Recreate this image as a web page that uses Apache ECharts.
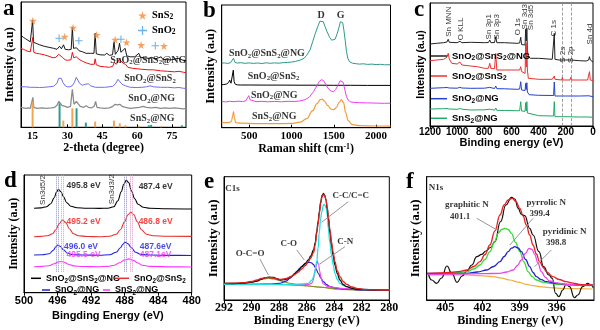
<!DOCTYPE html>
<html><head><meta charset="utf-8">
<script src="https://cdn.jsdelivr.net/npm/echarts@6.0.0/dist/echarts.min.js"></script>
<style>html,body{margin:0;padding:0;background:#fff}#c{width:600px;height:330px}</style>
</head><body><div id="c"></div>
<script>
const SERIF = '"Liberation Serif","Times New Roman",serif';
const SANS = '"Liberation Sans",Arial,Helvetica,sans-serif';

// ---------- panel a : XRD ----------
const a_xTicks = [15, 30, 45, 60, 75];
const a_black = [[10,92],[11,90],[12,88.5],[13,87],[14,85.5],[14.6,86],[15.0,107],[15.4,85],[16.5,84],[18,82.5],[20,81],[22,80],[24,79],[25.5,78],[26.6,81],[27.4,78.5],[28.3,82.5],[29,78],[30.5,77.5],[31.6,78],[32.1,100],[32.6,79],[33.9,79.5],[35,76.5],[36.5,75.5],[38,74],[38.5,75.5],[40,74],[41.4,74],[41.9,94],[42.4,73.5],[44,72.5],[46,72.3],[46.9,74],[48,72],[49.4,72.5],[50.0,85.5],[50.6,73],[51.8,77],[52.4,84],[53,75],[54.8,79],[55.5,71.5],[57,70.5],[59,70.5],[60.7,74],[61.4,70],[63,69.5],[65,69],[66,70],[68,68.5],[70.3,70.5],[71,68],[73,67.5],[75,67.5],[77.6,69],[78.3,67],[80,66.8],[81,66.6]];
const a_red = [[10,79],[11,78],[12,77],[13,76],[14,75.5],[14.7,76],[15.1,90],[15.5,75],[16.6,74],[18,73.5],[20,72.5],[22,71],[23.8,69.5],[25,70],[26.2,73],[27,72.5],[27.8,70],[28.3,71],[29,67.5],[30,67],[31.5,67.5],[32.1,75],[32.7,69.5],[33.8,70.5],[35,68],[36.5,66],[38,64.5],[40,63],[41.5,63],[41.9,68.5],[42.4,62.5],[44,61],[46,60.5],[48,60],[49.5,61],[50.1,65],[51,63],[52.3,68],[53,66.5],[54,64],[55,63],[56,60],[58,59],[60,58.5],[62,58],[65,57.5],[67,57.5],[70,56.5],[73,56],[76,55.5],[78,56],[80,55],[81,54.6]];
const a_blue = [[10,40.5],[12,40.5],[14,40],[16,40],[18,39.8],[20,40],[22,40.5],[24,41],[25.5,44],[26.2,49],[26.7,51],[27.3,49],[28,45],[29,41.5],[30,40.5],[31,40.5],[32,41.5],[33,45],[33.8,50],[34.4,48.5],[35.2,44],[36.5,42],[37.5,43],[38.2,45],[39,43.5],[40,41.5],[42,40],[44,40],[46,40],[48,40.5],[49.5,41],[50.8,44],[51.7,48],[52.5,46.5],[53.5,43],[55,41.5],[57,40],[60,39.8],[62,40],[64,40.5],[65.5,41.5],[67,40.5],[70,40],[73,40],[76,39.5],[78,39.8],[80,39],[81,39]];
const a_gray = [[10,20],[11,19.5],[12,19],[13,19.5],[14,19],[14.7,20],[15.1,30],[15.5,20],[17,19],[19,19.5],[21,19],[23,19.5],[24.5,20],[25.5,22],[26.3,26],[27,25],[27.6,22],[28.3,24],[29,21],[30,20],[31.3,21],[32.1,38],[32.8,23],[33.8,26],[34.6,24],[35.5,21],[37,20],[38,21.5],[39,20],[40.5,19.5],[41.5,21],[42.1,26],[42.7,20],[44,19.5],[46,19],[48,19.5],[49.5,21],[50.5,23],[51.5,22.5],[52.5,23],[53.5,21],[55,20],[57,19],[59,19.5],[61,20],[62.5,21],[64,20],[66,19.5],[68,20],[70,19],[72,19.5],[74,19],[76,19.5],[78,19],[80,18.5],[81,19]];
const a_sns2Ref = [[15.0,25.7],[28.2,6.7],[32.1,19],[41.9,5.7],[50.0,6.7],[52.5,4],[54.9,2],[60.7,1.5],[70.3,1]];
const a_sno2Ref = [[26.6,24],[33.9,19],[37.9,4.7],[65.0,2],[66.0,2.5],[79.2,2]];
const a_starPos = [[15.1,106.6],[28.8,90.6],[32.4,99.6],[42.5,92.3],[50.5,87.6],[55.4,85],[61.7,82.3],[71.5,81.3]];
const a_crossPos = [[26.4,89],[34.9,86.6],[53.0,88],[67.8,81.6]];
const a_labelText = ['SnO{s|2}@SnS{s|2}@NG','SnO{s|2}@SnS{s|2}','SnO{s|2}@NG','SnS{s|2}@NG'];
const a_labelX = [64.8, 65.5, 66.2, 66.5];
const a_labelY = [67.3, 49, 29, 9];

// ---------- panel b : Raman ----------
const b_xTicks = [500, 1000, 1500, 2000];
const b_teal = [[175,64.5],[210,64.8],[245,64.2],[280,65],[300,66.5],[315,69.5],[330,65.5],[360,64.6],[400,65],[450,64.4],[500,64.8],[550,64.3],[600,64.7],[650,64.2],[700,64.9],[750,64.4],[800,64.8],[850,64.5],[900,65],[950,65.3],[1000,65.6],[1050,66.4],[1100,67.5],[1150,69.5],[1180,72.5],[1220,78],[1250,86],[1280,94],[1310,101],[1335,106.5],[1355,108],[1375,106],[1395,101.5],[1420,96],[1450,90.5],[1475,87.5],[1495,87],[1515,88.5],[1540,94],[1560,100],[1578,106],[1592,108],[1605,105],[1620,97],[1635,87],[1650,76],[1665,69.5],[1685,66],[1720,64.5],[1760,64],[1800,63.6],[1850,63.9],[1900,63.3],[1950,63.6],[2000,63.1],[2050,63.4],[2100,62.9],[2170,63]];
const b_black = [[175,43],[200,43.2],[230,43.6],[255,45],[270,47.5],[285,44.5],[300,46],[312,57.5],[322,46],[335,43.5],[360,42.8],[400,42.7],[500,42.7],[700,42.6],[900,42.6],[1100,42.5],[1300,42.5],[1500,42.4],[1700,42.4],[1900,42.3],[2170,42.3]];
const b_magenta = [[175,26.2],[220,25.8],[270,26.4],[320,26],[370,26.5],[420,26.1],[460,26.8],[480,28.5],[495,32],[510,28],[530,26.3],[580,26],[650,26.4],[720,25.9],[800,26.3],[880,25.9],[960,26.4],[1040,26.2],[1100,26.8],[1160,28],[1210,30.5],[1260,36],[1300,42],[1330,46.5],[1355,48],[1380,47],[1410,42.5],[1440,38.5],[1470,36.5],[1495,36],[1520,38],[1550,42.5],[1575,47],[1592,48.2],[1610,45.5],[1630,38],[1650,31],[1670,27.5],[1700,25.8],[1750,25.2],[1800,25],[1900,24.8],[2000,24.6],[2100,24.4],[2170,24.5]];
const b_orange = [[175,5],[250,5],[290,6],[305,12],[315,16],[325,10],[340,5],[400,4.5],[600,4],[800,4],[1000,4.3],[1100,5.5],[1180,9],[1250,17],[1300,24],[1340,28],[1360,28.5],[1390,26.5],[1430,22],[1470,18.5],[1500,18],[1530,20],[1560,25],[1590,28],[1615,25],[1640,15],[1670,7],[1720,3],[1800,2],[2000,1.7],[2170,1.5]];
const b_labelText = ['SnO{s|2}@SnS{s|2}@NG','SnO{s|2}@SnS{s|2}','SnO{s|2}@NG','SnS{s|2}@NG','D','G'];
const b_labelX = [709, 788, 796, 796, 1349, 1582];
const b_labelY = [74.4, 51.7, 32.7, 11, 112, 112];

// ---------- panel c : XPS survey ----------
const c_black = [[1200,82],[1150,82.7],[1100,83.3],[1075,84],[1066,86.7],[1058,83.7],[1000,83.3],[980,84.7],[965,83.3],[900,83.7],[800,83.3],[770,83.5],[760,86],[752,83.3],[725,83.5],[716,89.3],[708,83.3],[650,83.3],[560,82.7],[540,83],[532,88.7],[526,81.5],[500,81],[496,96.7],[491,85],[487,97.7],[483,76],[476,69.3],[460,67.7],[400,67.7],[300,66.7],[290,67],[285,92.7],[280,66.7],[250,66],[200,66],[160,66],[100,65.3],[50,65],[32,66],[26,69.3],[20,66],[0,64]];
const c_red = [[1200,65.3],[1150,66],[1100,66.7],[1075,68.7],[1066,72.7],[1058,67],[1040,62.7],[1000,62],[980,64],[965,61],[900,60],[850,59.3],[800,57.7],[770,57.7],[760,62.7],[752,57.5],[725,57.3],[716,72.7],[708,56],[650,56],[560,56],[540,56],[532,59.3],[526,54.5],[500,52.5],[496,82.7],[491,59],[487,83.3],[483,56],[476,47.7],[400,46.7],[300,46.7],[290,46.7],[285,50],[280,46.7],[230,46],[226,48.7],[222,46],[170,46],[163,48.7],[157,46],[100,46],[40,46],[30,47],[26,54.3],[20,46],[0,45.3]];
const c_blue = [[1200,37.7],[1100,38.3],[1075,38.5],[1066,40],[1058,38],[1000,37.8],[980,38.7],[965,38],[900,37.7],[800,37.8],[760,38.6],[752,37.7],[725,37.5],[716,40],[708,37.3],[650,37.2],[560,36.7],[540,37],[532,44.3],[526,36],[500,35.5],[496,42.7],[491,36.5],[487,43.3],[483,34],[470,31.3],[400,30.7],[290,30.5],[285,44],[280,30],[200,30],[100,30],[30,30.2],[26,32],[20,29.7],[0,29.3]];
const c_green = [[1200,17],[1100,17.3],[1075,17.5],[1066,18.7],[1058,17],[1000,16.7],[980,17.5],[965,16.8],[900,16],[800,16.2],[760,16.8],[752,16],[725,15.8],[716,18],[708,15.7],[650,15.5],[560,15.3],[540,15.3],[532,24.3],[526,15],[500,14.7],[496,23.3],[491,15],[487,24.3],[483,13],[470,11],[400,10.3],[290,10],[285,24.3],[280,9.3],[200,9.3],[100,9],[30,9],[26,11],[20,8.7],[0,8.7]];
const c_sulfurLines = [226, 162];
const c_peakNames = ['Sn MNN','O KLL','Sn 3p1','Sn 3p3','O 1s','Sn 3d3','Sn 3d5','C 1s','S 2s','S 2p','Sn 4d'];
const c_peakX = [1060, 970, 768, 709, 550, 501, 459, 287, 223, 164, 27];
const c_peakY = [104.3, 97, 99.3, 99.3, 99.3, 109.3, 108.5, 97.7, 71.3, 71.3, 92];

// ---------- panel d : Sn 3d ----------
const d_black = [[498.8,84.5],[498,84.8],[497.3,86],[496.8,89],[496.4,95],[496.1,101],[495.9,103.5],[495.6,101],[495.3,96],[494.9,90],[494.4,86.5],[493.7,85],[492.5,84.5],[491,84.3],[490,84.5],[489.3,86],[488.8,92],[488.4,101],[488.1,108.5],[487.8,112.5],[487.5,110],[487.2,102],[486.8,94],[486.4,88.5],[485.8,85.5],[485,84.5],[483,84],[480,83.7]];
const d_red = [[498.8,56],[498,56.3],[497.2,57],[496.6,59],[496.2,63],[495.8,69],[495.4,72.7],[495.0,70],[494.6,64],[494.1,59],[493.5,57],[492.5,56.2],[491,56],[489.8,56.5],[489,58.5],[488.5,63],[488.0,71],[487.6,78],[487.25,80.5],[486.9,78],[486.5,71],[486.0,63],[485.4,58.5],[484.6,57],[483,56.5],[480,56.3]];
const d_blue = [[498.8,37.7],[497.8,38],[497,39],[496.5,42.5],[496.2,46],[496.0,47.7],[495.7,46.5],[495.3,43],[494.8,39.5],[494.2,38],[493,37.7],[491,37.5],[489.8,38],[489.0,40.5],[488.5,45],[488.2,48.5],[487.95,50.4],[487.6,49],[487.2,45],[486.7,40.5],[486.1,38.5],[485,37.7],[482,37.3],[480,37.2]];
const d_magenta = [[498.8,26],[497.8,26.3],[497,27],[496.4,29],[496,30.5],[495.6,31.2],[495.2,30.5],[494.7,28.5],[494.1,26.8],[493,26.2],[491,26],[490,26.3],[489.2,27.5],[488.6,30],[488.0,32.7],[487.5,33.8],[487.0,32.5],[486.5,30],[485.9,27.5],[485,26.3],[482,25.8],[480,25.7]];
const d_refLines = [496.2, 495.9, 495.55, 495.3, 488.0, 487.75, 487.35, 487.1];
const d_refColors = ['#8c8cc8','#8c8cc8','#f08ad0','#f08ad0','#8c8cc8','#8c8cc8','#f08ad0','#f08ad0'];
const d_labelText = ['495.8 eV','487.4 eV','495.2 eV','486.8 eV','496.0 eV','487.6eV','495.5 eV','487.1eV'];
const d_labelX = [492.9, 484.3, 492.9, 484.3, 493.2, 484.3, 492.9, 484.3];
const d_labelY = [106.7, 106, 71, 71, 46.4, 46.4, 37.7, 37.7];
const d_labelColor = ['#000','#000','#f01818','#f01818','#1a1ae0','#1a1ae0','#ff30ff','#ff30ff'];
const d_peakNames = ['Sn3d5/2','Sn3d3/2'];
const d_peakX = [497.73, 489.47];
const d_peakY = [102.7, 103.4];

// ---------- panel e : C1s ----------
const e_black = [[292,16.7],[291.3,16.5],[290.6,16.8],[290,17.8],[289.6,19],[289.3,20.8],[289.0,22.3],[288.7,22.8],[288.4,22.5],[288.1,21],[287.9,20],[287.65,20.3],[287.45,21],[287.1,23.5],[286.85,26.7],[286.6,29.5],[286.36,33.3],[286.1,36.5],[285.88,40],[285.7,44],[285.5,50],[285.38,57],[285.27,68.3],[285.17,78],[285.08,88.3],[284.98,98],[284.88,104.5],[284.78,106.7],[284.68,104.5],[284.6,100],[284.5,91],[284.43,81.7],[284.3,67],[284.2,55],[284.07,44],[283.95,35],[283.78,26.5],[283.58,20],[283.35,15.5],[283.1,13.3],[282.7,11.7],[282.37,10.7],[281.8,10.3],[281.16,10],[280.6,9.8],[280,9.7]];
const e_red = [[292,16.7],[291.3,16.8],[290.6,17.3],[290,18.5],[289.6,20],[289.3,21.5],[289.0,22.3],[288.7,22.5],[288.4,22],[288.1,21],[287.9,20.5],[287.65,21],[287.45,21.7],[287.1,23.5],[286.85,25.7],[286.6,28],[286.36,31],[286.1,34.5],[285.88,38.3],[285.7,42],[285.5,47.3],[285.38,55],[285.27,66.7],[285.17,76],[285.08,86.7],[284.98,96.5],[284.88,103.5],[284.78,105.7],[284.68,104],[284.6,100.5],[284.5,92.5],[284.43,84],[284.3,70],[284.2,58.3],[284.07,47.5],[283.95,38.3],[283.78,29.5],[283.58,23.3],[283.35,18.5],[283.1,15.7],[282.7,13],[282.37,11.7],[281.8,10.7],[281.16,10.2],[280.6,10],[280,9.8]];
const e_cyan = [[292,15.7],[289,15.7],[287,15.7],[286.3,16],[285.88,16.7],[285.6,20],[285.5,23.3],[285.38,30],[285.27,38.3],[285.17,52],[285.08,68.3],[284.98,82],[284.9,88.3],[284.8,94],[284.73,95.7],[284.65,94.5],[284.58,91.7],[284.5,85],[284.43,71.7],[284.32,58],[284.2,45],[284.07,35],[283.95,26.7],[283.78,20.5],[283.58,16.7],[283.3,14.3],[283.1,13.3],[282.37,11],[281,10.2],[280,10]];
const e_blue = [[292,15.7],[289.5,15.7],[288.6,16],[287.94,16.7],[287.5,18.8],[287.21,21.7],[286.95,24.8],[286.73,28.3],[286.48,32],[286.24,35],[286.03,37],[285.83,37.7],[285.65,37.2],[285.52,35.7],[285.33,31.5],[285.15,26.7],[284.97,22],[284.79,18.3],[284.55,15.3],[284.31,13.3],[283.8,11.8],[283.34,11],[282,10],[280,9.7]];
const e_magenta = [[292,15.7],[288,15.5],[286.5,15.2],[285.9,15.5],[285.64,16.7],[285.52,19.5],[285.45,25],[285.32,33.3],[285.23,39],[285.13,35],[285.05,29],[284.98,23.3],[284.88,19],[284.79,16],[284.43,13.3],[283.58,11.7],[282,10.5],[280,10]];
const e_olive = [[292,16],[291.3,16.2],[290.6,16.7],[290.1,17.7],[289.63,19],[289.14,21],[288.78,21.7],[288.42,21],[287.94,19.3],[287.55,17.8],[287.21,16.7],[286.6,15.3],[286,14.3],[285,12.8],[283.58,11],[282,10.3],[280,10]];
const e_bg = [[292,15.7],[289,15.7],[287.5,15.2],[286.3,14.3],[285.1,13],[283.9,11],[282.7,10],[280,9.7]];
const e_labelText = ['C1s','C-C/C=C','C-N','C-O','O-C=O'];
const e_labelX = [291.38, 282.8, 283.2, 287.3, 290.1];
const e_labelY = [111, 104.3, 58.3, 56.7, 46];
const e_pointers = [[[282.98,98.3],[284.91,77.7]], [[283.22,53.3],[285.08,35.7]], [[286.72,50],[286.17,40]], [[289.39,41],[288.78,25]]];

// ---------- panel f : N1s ----------
const f_xTicks = [396, 399, 402, 405];
const f_black = [[406.34,25],[406.1,20],[405.7,16.7],[405.3,22],[404.87,34],[404.45,26],[404.05,17.7],[403.64,24],[403.26,29],[402.86,35],[402.46,43.3],[402.06,45.7],[401.72,49],[401.35,52.5],[401.0,58.3],[400.54,78.3],[400.11,95],[399.65,102.7],[399.39,101],[399.12,91.7],[398.86,85.7],[398.59,84.3],[398.19,71.7],[397.92,65],[397.44,48.3],[397.07,33.3],[396.64,25],[396.37,21.7],[396.1,6.7],[395.84,3.3],[395.52,10],[395.25,15.7],[394.98,13.3],[394.58,2.3],[394.31,5],[393.91,13.3],[393.51,16.7],[393.25,15],[393.06,12.3]];
const f_red = [[406.47,26.7],[405.5,27.2],[404.6,27.7],[403.8,28.7],[403.26,30],[402.7,33.5],[402.2,38.3],[401.8,45.5],[401.4,55],[401.0,69],[400.59,85],[400.25,95],[399.93,100],[399.6,101.7],[399.3,98.5],[398.99,91.7],[398.72,84],[398.46,75],[398.19,65],[397.92,55],[397.65,46],[397.39,38.3],[397.1,32.5],[396.85,28.3],[396.32,23.3],[395.8,20.5],[395.25,18.3],[394.7,16.8],[394.18,15.7],[393.6,15.2],[393.11,15]];
const f_green = [[406.47,25.7],[405,26.5],[404,27.3],[403.26,28.3],[402.7,31],[402.2,35],[401.8,40.5],[401.4,48.3],[401.05,57.5],[400.73,66.7],[400.45,70.5],[400.19,71.7],[399.92,70.5],[399.66,66.7],[399.33,57.5],[398.99,48.3],[398.65,38],[398.32,28.3],[397.98,23.3],[397.65,20],[397.1,17.8],[396.59,16.7],[395.9,15.7],[395.25,15],[394.2,14.6],[393.11,14.3]];
const f_blue = [[406.47,26.7],[404,26.7],[403.26,26.7],[402.4,28],[401.66,30],[401.1,33.5],[400.59,38.3],[400.25,43.5],[399.93,48.3],[399.66,51.8],[399.39,53.3],[399.12,52],[398.86,48.3],[398.52,40.5],[398.19,33.3],[397.92,27.5],[397.65,23.3],[397.25,20.3],[396.85,18.3],[396,16.6],[395.25,15.7],[394,15.2],[393.11,15]];
const f_magenta = [[406.47,25.7],[404,26],[402,26.3],[400.59,26.7],[400.05,28],[399.52,30],[399.18,34.5],[398.86,40],[398.55,46.5],[398.24,51.7],[398.0,50.5],[397.79,45.7],[397.52,37],[397.25,28.3],[396.92,22.5],[396.59,19],[396,17],[395.25,15.7],[394,15.2],[393.11,15]];
const f_bg = [[406.47,25],[405,25],[403.26,25],[402.2,24.3],[401.13,23.3],[400.45,21.8],[399.79,20],[399.12,17.8],[398.46,15.7],[397.9,14.3],[397.39,13.3],[396.6,12.4],[395.79,11.7],[394.5,11.3],[393.11,11]];
const f_labelText = ['N1s','graphitic N','401.1','pyrrolic N','399.4','pyridinic N','398.8'];
const f_labelX = [405.75, 403.26, 403.8, 396.85, 397.39, 395.38, 396.05];
const f_labelY = [112.3, 95.7, 83.3, 97.7, 86.7, 68.3, 57.7];
const f_pointers = [[[402.46,81.7],[400.59,68.3]], [[397.92,81.7],[399.79,55]], [[396.45,50],[397.79,33.3]]];

// ---------- helpers ----------
const SUB = (size) => ({ s: { fontSize: size, lineHeight: size, verticalAlign: 'bottom' }, p: { fontSize: size, lineHeight: size, verticalAlign: 'top' } });
const chem = (n) => n.replace(/([A-Za-z])2/g, '$1{s|2}');

function line(gi, name, data, color, width, smooth, z) {
  return { type: 'line', name, xAxisIndex: gi, yAxisIndex: gi, data, symbol: 'none', showSymbol: false,
    smooth: smooth || false, smoothMonotone: 'x', lineStyle: { color, width: width || 1 }, itemStyle: { color },
    silent: true, z: z || 2 };
}
function labels(gi, texts, xs, ys, style, colors, rotate) {
  return { type: 'scatter', xAxisIndex: gi, yAxisIndex: gi, symbolSize: 1, itemStyle: { color: 'rgba(0,0,0,0)' }, silent: true, z: 20,
    data: texts.map((t, i) => ({ value: [xs[i], ys[i]], name: t, label: colors ? { color: colors[i] } : undefined })),
    label: Object.assign({ show: true, position: 'inside', formatter: (p) => p.name, color: '#000', rotate: rotate || 0 }, style) };
}
function pointer(gi, seg) {
  return { type: 'line', xAxisIndex: gi, yAxisIndex: gi, data: seg, symbol: 'none', lineStyle: { color: '#8a8a8a', width: 0.9 }, silent: true, z: 15 };
}
function xAx(gi, o) {
  return { type: 'value', gridIndex: gi, min: o.min, max: o.max, inverse: !!o.inverse, interval: o.interval,
    axisLine: { show: true, onZero: false, lineStyle: { color: '#000', width: 1 } },
    axisTick: { show: true, inside: !!o.tickInside, length: 3, lineStyle: { color: '#000' }, customValues: o.custom },
    axisLabel: { show: true, margin: o.margin, color: '#000', fontFamily: o.font, fontWeight: 'bold', fontSize: o.size, customValues: o.custom,
      formatter: (v) => String(v) },
    splitLine: { show: false },
    name: o.name, nameLocation: 'middle', nameGap: o.nameGap,
    nameTextStyle: { color: '#000', fontFamily: o.font, fontWeight: 'bold', fontSize: o.nameSize, rich: SUB(o.nameSize * 0.65) } };
}
function yAx(gi, h, o) {
  return { type: 'value', gridIndex: gi, min: 0, max: h,
    axisLine: { show: true, onZero: false, lineStyle: { color: '#000', width: 1 } },
    axisTick: { show: false }, axisLabel: { show: false }, splitLine: { show: false },
    name: 'Intensity (a.u)', nameLocation: 'middle', nameGap: o.gap,
    nameTextStyle: { color: '#000', fontFamily: o.font, fontWeight: 'bold', fontSize: o.size } };
}
function legendItem(name, left, top, w, font, size) {
  return { data: [name], left, top, padding: 0, icon: 'rect', itemWidth: w, itemHeight: 1.5, selectedMode: false,
    formatter: (n) => chem(n.split('|')[1]),
    textStyle: { fontFamily: font, fontWeight: 'bold', fontSize: size, color: '#000', lineHeight: 12, rich: SUB(size * 0.7) } };
}

const GRIDS = [
  { left: 21, top: 2, width: 165, height: 125.3 },
  { left: 221.7, top: 5, width: 168.8, height: 122.7 },
  { left: 430, top: 3, width: 163, height: 123 },
  { left: 24, top: 175, width: 167.7, height: 117.7 },
  { left: 224, top: 176.7, width: 165.3, height: 123.3 },
  { left: 426.7, top: 176.7, width: 167.3, height: 123.3 }
].map(g => Object.assign({ show: true, borderColor: '#000', borderWidth: 1, backgroundColor: 'transparent', containLabel: false }, g));

const STAR = 'path://M50,0 L61,35 L98,35 L68,57 L79,91 L50,70 L21,91 L32,57 L2,35 L39,35 Z';
const CROSS = 'path://M43,0 H57 V43 H100 V57 H57 V100 H43 V57 H0 V43 H43 Z';

const serifLbl = (size) => ({ fontFamily: SERIF, fontWeight: 'bold', fontSize: size, lineHeight: 12, rich: SUB(size * 0.68) });
const sansLbl = (size, w) => ({ fontFamily: SANS, fontWeight: w || 'bold', fontSize: size, lineHeight: 11 });

const series = [
  // a
  line(0, 'a-black', a_black, '#000', 0.9),
  line(0, 'a-red', a_red, '#f01010', 1),
  line(0, 'a-blue', a_blue, '#6d6df5', 1),
  line(0, 'a-gray', a_gray, '#8c8c8c', 1.3),
  { type: 'bar', xAxisIndex: 0, yAxisIndex: 0, data: a_sns2Ref, barWidth: 2, barGap: '-100%', itemStyle: { color: '#f2a650' }, silent: true, z: 5 },
  { type: 'bar', xAxisIndex: 0, yAxisIndex: 0, data: a_sno2Ref, barWidth: 2, barGap: '-100%', itemStyle: { color: '#2f9a8c' }, silent: true, z: 5 },
  { type: 'scatter', name: 'a|SnS2', xAxisIndex: 0, yAxisIndex: 0, data: a_starPos, symbol: STAR, symbolSize: 8, itemStyle: { color: '#f28a3c' }, silent: true, z: 8 },
  { type: 'scatter', name: 'a|SnO2', xAxisIndex: 0, yAxisIndex: 0, data: a_crossPos, symbol: CROSS, symbolSize: 7.5, itemStyle: { color: '#4a9ee0' }, silent: true, z: 8 },
  labels(0, a_labelText, a_labelX, a_labelY, serifLbl(10)),
  // b
  line(1, 'b-teal', b_teal, '#2a9a8a', 1),
  line(1, 'b-black', b_black, '#000', 1),
  line(1, 'b-magenta', b_magenta, '#f03cf0', 1),
  line(1, 'b-orange', b_orange, '#f39a3a', 1.2, 0.4),
  labels(1, b_labelText, b_labelX, b_labelY, serifLbl(10)),
  // c
  line(2, 'c|SnO2@SnS2@NG', c_black, '#222', 1),
  line(2, 'c|SnO2@SnS2', c_red, '#ee3030', 1, false, 3),
  line(2, 'c|SnO2@NG', c_blue, '#2440d0', 1),
  Object.assign(line(2, 'c|SnS2@NG', c_green, '#1fa866', 1), {
    markLine: { silent: true, symbol: ['none', 'none'], label: { show: false },
      lineStyle: { color: '#888', type: 'dashed', width: 0.8 }, data: c_sulfurLines.map(v => ({ xAxis: v })) } }),
  labels(2, c_peakNames, c_peakX, c_peakY, sansLbl(8, 'normal'), null, 90),
  // d
  Object.assign(line(3, 'd|SnO2@SnS2@NG', d_black, '#000', 1.1, 0.4), {
    markLine: { silent: true, symbol: ['none', 'none'], label: { show: false },
      data: d_refLines.map((v, i) => [{ coord: [v, 21], lineStyle: { color: d_refColors[i], type: 'dotted', width: 1 } }, { coord: [v, 117.7] }]) } }),
  line(3, 'd|SnO2@SnS2', d_red, '#e83030', 1.1, 0.4),
  line(3, 'd|SnO2@NG', d_blue, '#2020dd', 1.1, 0.4),
  line(3, 'd|SnS2@NG', d_magenta, '#ff33ff', 1.1, 0.4),
  labels(3, d_labelText, d_labelX, d_labelY, sansLbl(8.5), d_labelColor),
  labels(3, d_peakNames, d_peakX, d_peakY, sansLbl(8, 'normal'), null, 90),
  // e
  line(4, 'e-bg', e_bg, '#a89c3a', 1, 0.3),
  line(4, 'e-olive', e_olive, '#8c8c2a', 1.1, 0.4),
  line(4, 'e-blue', e_blue, '#2222d0', 1.2, 0.4),
  line(4, 'e-magenta', e_magenta, '#ee44ee', 1.2, 0.4),
  line(4, 'e-cyan', e_cyan, '#22e0e0', 1.3, 0.4),
  line(4, 'e-black', e_black, '#111', 1.3, 0.4),
  line(4, 'e-red', e_red, '#e02020', 1.3, 0.4),
  labels(4, e_labelText, e_labelX, e_labelY, serifLbl(9)),
  ...e_pointers.map(s => pointer(4, s)),
  // f
  line(5, 'f-bg', f_bg, '#f0b040', 1.2, 0.4),
  line(5, 'f-black', f_black, '#111', 1.2, 0.5),
  line(5, 'f-green', f_green, '#33dd33', 1.3, 0.4),
  line(5, 'f-blue', f_blue, '#2222cc', 1.3, 0.4),
  line(5, 'f-magenta', f_magenta, '#ee44ee', 1.3, 0.4),
  line(5, 'f-red', f_red, '#e82020', 1.3, 0.4),
  labels(5, f_labelText, f_labelX, f_labelY, serifLbl(9)),
  ...f_pointers.map(s => pointer(5, s))
];

const option = {
  animation: false,
  backgroundColor: '#fff',
  grid: GRIDS,
  xAxis: [
    xAx(0, { min: 10, max: 81, custom: a_xTicks, font: SERIF, size: 11, margin: 3, tickInside: true, name: '2-theta (degree)', nameGap: 12.5, nameSize: 12 }),
    xAx(1, { min: 175, max: 2170, custom: b_xTicks, font: SERIF, size: 11, margin: 3, tickInside: true, name: 'Raman shift (cm{p|-1})', nameGap: 13, nameSize: 12 }),
    xAx(2, { min: 0, max: 1200, inverse: true, interval: 200, font: SANS, size: 10, margin: 1, name: 'Binding energy (eV)', nameGap: 6, nameSize: 11 }),
    xAx(3, { min: 480, max: 500, inverse: true, interval: 4, font: SANS, size: 11, margin: 3, name: 'Bingding Energy (eV)', nameGap: 18, nameSize: 11 }),
    xAx(4, { min: 280, max: 292, inverse: true, interval: 2, font: SERIF, size: 12, margin: 2, name: 'Binding Energy (eV)', nameGap: 15, nameSize: 12 }),
    xAx(5, { min: 393, max: 406.5, inverse: true, custom: f_xTicks, font: SERIF, size: 12, margin: 2, name: 'Binding Energy (eV)', nameGap: 15, nameSize: 12 })
  ],
  yAxis: [
    yAx(0, 125.3, { gap: 4.5, font: SERIF, size: 12.5 }),
    yAx(1, 122.7, { gap: 4, font: SERIF, size: 12.5 }),
    yAx(2, 123, { gap: 3, font: SANS, size: 10.5 }),
    yAx(3, 117.7, { gap: 4, font: SERIF, size: 12 }),
    yAx(4, 123.3, { gap: 4, font: SERIF, size: 13 }),
    yAx(5, 123.3, { gap: 5, font: SERIF, size: 13 })
  ],
  legend: [
    { data: ['a|SnS2', 'a|SnO2'], left: 138, top: 9.5, orient: 'vertical', padding: 0, itemGap: 3, itemWidth: 9, itemHeight: 9, selectedMode: false,
      formatter: (n) => chem(n.split('|')[1]),
      textStyle: { fontFamily: SERIF, fontWeight: 'bold', fontSize: 10.5, color: '#000', lineHeight: 12, rich: SUB(7.5) } },
    legendItem('c|SnO2@SnS2@NG', 431, 50, 16, SANS, 9.5),
    legendItem('c|SnO2@SnS2', 431, 70, 16, SANS, 9.5),
    legendItem('c|SnO2@NG', 431, 92.7, 16, SANS, 9.5),
    legendItem('c|SnS2@NG', 431, 112.3, 16, SANS, 9.5),
    legendItem('d|SnO2@SnS2@NG', 31, 272.3, 10, SANS, 9),
    legendItem('d|SnO2@SnS2', 115, 272.3, 14, SANS, 9),
    legendItem('d|SnO2@NG', 42, 284, 8, SANS, 9),
    legendItem('d|SnS2@NG', 103, 284, 7, SANS, 9)
  ],
  graphic: [
    ['a', 3, 22], ['b', 203, 23.5], ['c', 414, 22.5], ['d', 4, 193.5], ['e', 204, 195], ['f', 406, 195]
  ].map(([t, x, y]) => ({ type: 'text', left: x, top: y - 24, silent: true,
    style: { text: t, fontFamily: SERIF, fontWeight: 'bold', fontSize: 23, fill: '#000' } })),
  series
};

const chart = echarts.init(document.getElementById('c'), null, { renderer: 'canvas' });
chart.setOption(option);
</script></body></html>
